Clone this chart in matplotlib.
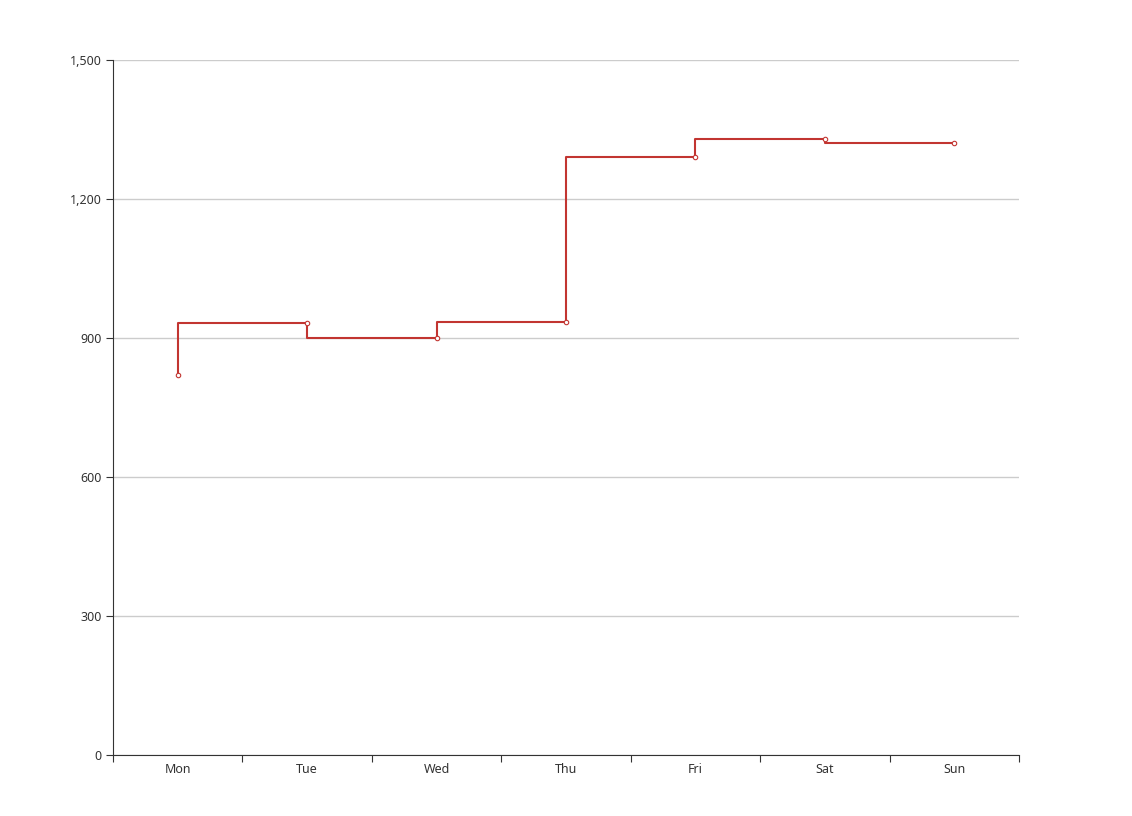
import matplotlib
matplotlib.use("Agg")
import matplotlib.pyplot as plt
from matplotlib.ticker import FuncFormatter, FixedLocator

days = ["Mon", "Tue", "Wed", "Thu", "Fri", "Sat", "Sun"]
values = [820, 932, 901, 934, 1290, 1330, 1320]
yticks = [0, 300, 600, 900, 1200, 1500]

plt.rcParams["font.family"] = ["Noto Sans", "DejaVu Sans"]

fig = plt.figure(figsize=(11.32, 8.16), dpi=100)
ax = fig.add_axes([113 / 1132, 1 - 755 / 816, (1019 - 113) / 1132, (755 - 60) / 816])

x = list(range(len(days)))
ax.plot(x, values, drawstyle="steps-pre", color="#c23531", lw=1.5, zorder=3)
ax.plot(x, values, ls="none", marker="o", ms=3.2, mfc="white", mec="#c23531", mew=0.8, zorder=4)

ax.set_xlim(-0.5, len(days) - 0.5)
ax.set_ylim(0, 1500)
ax.set_yticks(yticks)
ax.yaxis.set_major_formatter(FuncFormatter(lambda v, p: f"{int(v):,}"))
ax.xaxis.set_major_locator(FixedLocator([i - 0.5 for i in range(len(days) + 1)]))
ax.xaxis.set_major_formatter(FuncFormatter(lambda v, p: ""))
ax.set_xticks(x, minor=True)
ax.set_xticklabels(days, minor=True)
ax.tick_params(axis="x", which="minor", length=0, pad=6, labelsize=9, labelcolor="#333333")
ax.tick_params(axis="x", which="major", length=5, color="#333333")
ax.tick_params(axis="y", length=5, color="#333333", labelsize=9, labelcolor="#333333", pad=3)

ax.grid(axis="y", color="#cccccc", lw=1)
ax.set_axisbelow(True)
for s in ["top", "right"]:
    ax.spines[s].set_visible(False)
ax.spines["left"].set_color("#333333")
ax.spines["bottom"].set_color("#333333")

fig.savefig("out.png", dpi=100)
